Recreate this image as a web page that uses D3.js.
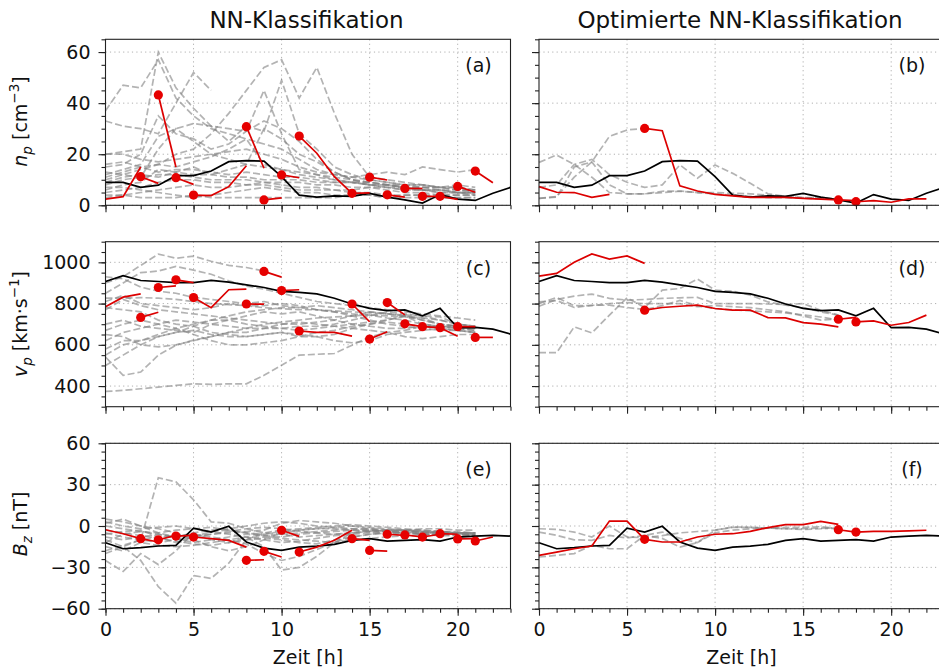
<!DOCTYPE html>
<html>
<head>
<meta charset="utf-8">
<title>NN-Klassifikation</title>
<style>
body { margin: 0; background: #fff; }
svg { display: block; font-family: "DejaVu Sans", sans-serif; }
</style>
</head>
<body>
<svg width="939" height="669"></svg>
<script src="https://d3js.org/d3.v7.min.js"></script>
<script>
// observed event (black), hourly 0..23
var obsNp = [9, 9, 7, 7.9, 11.6, 11.6, 13.4, 17.1, 17.5, 17.3, 11.2, 4, 3.2, 3.7, 3.5, 4.7, 3.2, 2.1, 0.9, 4.2, 2.4, 1.9, 4.7, 7];
var obsVp = [907, 935, 912, 907, 902, 902, 912, 904, 891, 878, 859, 854, 847, 826, 798, 777, 766, 769, 741, 777, 683, 685, 676, 652];
var obsBz = [-12.2, -16.5, -15.7, -14.5, -14, -1.5, -4.4, -0.2, -11.6, -16, -17.7, -15.3, -14.6, -13.3, -10.4, -9.2, -10.9, -10.4, -9.9, -10.9, -8, -7.3, -6.8, -7.3];

// neighbour events (grey dashed), NN-Klassifikation
var grayNp = [
  [37, 47, 46, 57, 42, 35, 30, 28, 26, 24, 22, 18, 14, 12, 11, 12, 13, 12, 15, 14, 13, 14],
  [20, 21, 22, 60, 46, 38, 31, 30, 29, 33, 30, 25, 18, 13, 10, 9, 8, 7, 7, 6, 6, 6],
  [33, 31, 30, 28, 40, 52, 45],
  [10, 12, 14, 16, 20, 22, 28, 36, 45, 54, 57, 42, 54, 36, 20, 11, 10, 9, 8, 7, 7, 6],
  [12, 14, 16, 27, 30, 32, 31, 25, 31, 29, 49, 28, 22, 15, 12, 10, 9, 8, 8, 7, 6, 5],
  [15, 16, 20, 35, 28, 26, 22, 24, 29, 45, 28, 14, 12, 10, 9, 9, 8, 7, 6, 5, 5, 4],
  [8, 10, 11, 22, 30, 25, 20, 18, 16, 15, 14, 12, 11, 10, 9, 8, 7, 7, 6, 6, 5, 5],
  [6, 8, 9, 14, 13, 12, 12, 11, 11, 10, 10, 10, 9, 9, 9, 8, 8, 7, 6, 5, 5, 5],
  [5, 6, 7, 9, 10, 10, 9, 9, 8, 9, 8, 7, 7, 6, 6, 7, 6, 5, 5, 4, 4, 4],
  [4, 4, 5, 6, 7, 8, 7, 7, 8, 8, 7, 6, 6, 6, 5, 5, 4, 4, 4, 3, 3, 3],
  [13, 12, 11, 12, 12, 11, 10, 10, 10, 9, 9, 9, 8, 8, 7, 7, 7, 6, 6, 6, 5, 5],
  [20, 20, 18, 17, 18, 19, 20, 21, 22, 20, 18, 15, 13, 12, 11, 10, 9, 8, 8, 7, 7, 6],
  [9, 11, 12, 11, 13, 15, 12, 14, 16, 30, 26, 20, 17, 13, 10, 8, 7, 6, 6, 6, 5, 5],
  [3, 4, 3, 3, 3, 4, 3, 3, 3, 3, 3, 3, 3, 3, 4, 4, 3, 3, 3, 3, 3, 3],
  [7, 7, 6, 5, 4, 3, 4, 5, 6, 7, 6, 5, 5, 4, 4, 4, 3, 4, 4, 4, 4, 4],
  [16, 17, 15, 13, 14, 14, 13, 12, 13, 12, 11, 11, 10, 9, 9, 8, 8, 7, 7, 7, 8, 7],
  [11, 13, 15, 16, 15, 17, 19, 22, 26, 16, 14, 13, 12, 11, 10, 9, 8, 8, 7, 7, 6, 6]
];
var grayVp = [
  [900, 930, 985, 1040, 1020, 1030, 1005, 985, 975, 958],
  [850, 900, 950, 958, 980, 962, 942, 910, 885, 870, 850, 830, 810, 800, 790, 780, 770, 760, 750, 740, 730, 720],
  [930, 920, 880, 860, 850, 830, 820, 810, 800, 810, 790, 780, 770, 760, 750, 745, 740, 735, 730, 720, 700, 690],
  [826, 826, 829, 826, 820, 810, 800, 795, 790, 780, 775, 770, 770, 765, 760, 755, 750, 745, 740, 735, 700, 690],
  [541, 452, 468, 550, 598, 623, 640, 660, 680, 700, 710, 720, 730, 735, 740, 745, 730, 720, 700, 690, 690, 680],
  [374, 379, 387, 395, 403, 411, 408, 411, 411, 452, 501, 550, 554, 558, 598, 639, 660, 670, 690, 690, 680, 680],
  [500, 550, 600, 640, 660, 670, 650, 640, 640, 650, 660, 650, 640, 620, 610, 620, 650, 660, 670, 680, 670, 660],
  [780, 770, 760, 720, 700, 690, 660, 650, 640, 650, 660, 640, 640, 650, 680, 700, 720, 740, 730, 700, 690, 680],
  [550, 600, 620, 650, 680, 700, 720, 740, 760, 770, 780, 780, 790, 780, 770, 760, 750, 740, 720, 700, 690, 680],
  [620, 660, 680, 700, 720, 710, 700, 690, 680, 680, 680, 690, 690, 700, 720, 740, 760, 750, 740, 720, 700, 690],
  [700, 720, 690, 680, 670, 660, 700, 720, 700, 690, 680, 670, 680, 690, 700, 710, 720, 740, 700, 690, 680, 670],
  [650, 640, 600, 590, 600, 620, 640, 660, 660, 680, 700, 710, 700, 690, 680, 670, 660, 640, 630, 640, 650, 650],
  [580, 620, 620, 640, 660, 690, 720, 720, 740, 760, 750, 760, 740, 720, 700, 690, 680, 680, 690, 690, 680, 670],
  [810, 840, 800, 790, 780, 770, 780, 800, 790, 790, 800, 790, 770, 760, 740, 720, 700, 690, 680, 670, 670, 660],
  [670, 700, 720, 700, 680, 650, 620, 600, 600, 610, 620, 640, 660, 670, 690, 700, 710, 700, 690, 680, 670, 660],
  [770, 820, 790, 770, 760, 750, 740, 730, 720, 710, 700, 700, 710, 720, 740, 760, 750, 740, 720, 700, 690, 680]
];
var grayBz = [
  [-20, -15, -10, 35, 32, 19, 3, 2, -2, -5, -6, -8, -7, -6, -5, -4, -3, -3, -2, -2, -3, -3],
  [-10, -15, -25, -44, -56, -36, -38, -27, -10, -5, -3, -2, -1, 0, 1, 0, -1, -2, -3, -4, -5, -5],
  [-25, -33, -20, -28, -18, -5, -10, -12, -8, -15, -32, -30, -22, -12, -5, -3, -4, -5, -6, -6, -6, -6],
  [5, 3, 0, -2, -5, -10, -15, -18, -15, -10, -5, -3, -2, -1, 0, -1, -2, -3, -4, -5, -5, -6],
  [2, 5, 0, -5, -8, -5, -3, -2, 0, 2, 3, 2, 0, -1, -2, -3, -4, -4, -5, -5, -5, -5],
  [-5, -8, -10, -12, -10, -8, -6, -5, -4, -3, 2, 4, 3, 2, 0, -2, -3, -4, -4, -5, -5, -6],
  [-15, -18, -12, -14, -15, -14, -12, -10, -8, -8, -9, -10, -11, -12, -10, -9, -8, -7, -7, -6, -6, -7],
  [0, -2, -4, -6, -8, -7, -6, -4, -2, -1, -2, -4, -5, -6, -5, -4, -3, -3, -3, -4, -4, -5],
  [-8, -10, -8, -6, -9, -12, -10, -8, -6, -7, -8, -6, -5, -4, -3, -4, -5, -5, -6, -6, -7, -7],
  [-12, -6, -4, -5, -3, -2, -1, -3, -5, -6, -4, -3, -2, -2, -3, -3, -4, -4, -5, -5, -6, -6],
  [-3, -5, -7, -9, -11, -13, -14, -12, -10, -9, -10, -12, -13, -10, -8, -6, -5, -5, -6, -7, -7, -7],
  [3, 0, -2, -1, 0, -2, -4, -6, -8, -10, -12, -11, -9, -7, -6, -5, -5, -4, -4, -4, -5, -5],
  [-18, -14, -10, -8, -7, -6, -8, -10, -13, -20, -25, -22, -17, -12, -8, -6, -5, -5, -5, -5, -6, -6],
  [-6, -4, -3, -8, -12, -8, -4, -3, -5, -7, -6, -5, -4, -3, -2, -2, -3, -3, -4, -4, -5, -5]
];

// neighbour events, optimierte NN-Klassifikation
var grayNpOpt = [
  [16.8, 19.7, 16, 11, 5, 4.5, 4.5, 5, 5.5, 5, 4.5, 4, 3.5, 3, 3, 2.8, 2.5, 2.3],
  [2.7, 3.4, 11, 17, 27, 29.5, 30.1],
  [2.7, 3.2, 15, 17, 8, 4.5, 4.5, 5.5, 5.6, 5, 5, 4.7, 4.5, 4, 3.5, 3, 2.8, 2.3],
  [7, 8, 16, 18, 12, 9, 7, 8, 15.8, 10.6, 15.8, 12.5, 8.6, 4.5, 3.5, 3, 3, 2.5]
];
var grayVpOpt = [
  [787, 820, 836, 846, 825, 817, 820, 825, 828, 830, 800, 800, 800, 798, 795, 800, 768, 744],
  [808, 815, 781, 792, 792, 781, 771, 790, 815, 790, 775, 770, 765, 760, 755, 745, 735, 720],
  [562, 562, 687, 658, 744, 828, 781, 865, 873, 919, 865, 860, 841, 808, 792, 781, 760, 744],
  [800, 830, 790, 790, 800, 805, 800, 800, 800, 785, 790, 785, 780, 770, 760, 740, 720, 725]
];
var grayBzOpt = [
  [-2, -2.4, -4.4, -8, 0, -8, -8.5, -7, -5, -4, -3, -1, -1, -1.5, -2, -2, -1.5, -2],
  [-4.4, -6.8, -10, -10.4, -6.8, -8.7, -6.8, -4.4, -9, -12, -5, -3, -2, -1.5, -1, -1, -0.5, -2],
  [-22.5, -21.3, -20, -14, -16.5, -16.5, -6.8, -9, -15.3, -12, -3.1, -0.7, -1, -1.5, -2, -2.5, -2, -1]
];

// predictions (red): [start hour, values]
var predNp = [[0, [2.4, 3.4, 15]], [2, [11.2, 8.6]], [3, [43.2, 15]], [4, [10.8, 8.2]], [5, [4, 3.8, 7.3, 15.5]],
  [8, [30.8, 14.5]], [9, [2.1, 2.9]], [10, [11.9, 10.8]], [11, [27.1, 20.4, 11.2, 4.7]], [14, [4.7, 4.9]],
  [15, [11, 9.9]], [16, [4.1, 3.2]], [17, [6.6, 6.6]], [18, [3.5, 3.5]], [19, [3.5, 2.3]], [20, [7.4, 5.1]], [21, [13.4, 8.8]]];
var predVp = [[0, [785, 831, 847]], [2, [733, 758]], [3, [878, 886]], [4, [915, 902]], [5, [829, 780, 867, 870]],
  [8, [798, 797]], [9, [956, 928]], [10, [863, 867]], [11, [667, 660, 660, 642]], [14, [798, 712]],
  [15, [628, 663]], [16, [805, 745]], [17, [702, 688]], [18, [688, 683]], [19, [683, 642]], [20, [688, 688]], [21, [636, 636]]];
var predBz = [[0, [-2.7, -5.6, -9.2]], [2, [-9.2, -11.6]], [3, [-10, -6.8]], [4, [-7.3, -6.8]], [5, [-8, -9.2, -10.4, -15.3]],
  [8, [-24.9, -24.5]], [9, [-18.4, -22.5]], [10, [-3.1, -7.5]], [11, [-18.9, -15.3, -10.4, -3.1]], [14, [-9.2, -10.4]],
  [15, [-17.7, -18.2]], [16, [-6, -6.8]], [17, [-6.5, -8]], [18, [-8, -6]], [19, [-5.6, -6]], [20, [-9.4, -9.2]], [21, [-10.9, -8]]];

var predNpOpt = [[0, [7.3, 5.1, 5, 3.1, 4.3]], [6, [30.1, 29.2, 7.6, 5.6, 4.3, 3.7, 3.1, 3.1, 3.1, 2.7, 2.4, 2.1]],
  [17, [2.1, 1.8]], [18, [1.4, 1.8, 1.2, 2.5, 2.5]]];
var predVpOpt = [[0, [933, 946, 1000, 1041, 1016, 1031, 995]], [6, [768, 781, 787, 792, 776, 768, 768, 732, 731, 708, 700, 687]],
  [17, [724, 733]], [18, [711, 716, 695, 708, 744]]];
var predBzOpt = [[0, [-21.3, -19, -16.5, -14.5, 3.6, 3.6, -9.7]], [6, [-9.7, -11.6, -11.6, -8, -6, -5.6, -3.9, -1.2, 1, 1, 3.4, 1.2]],
  [17, [-2.7, -4.4]], [18, [-4.4, -3.9, -3.9, -3.6, -3.1]]];

var xTicks = [0, 5, 10, 15, 20];
var titles = ["NN-Klassifikation", "Optimierte NN-Klassifikation"];

var svg = d3.select("svg");
var colLeft = [105.5, 539], panelW = 405;
var rowTop = [39.3, 241.7, 443.3], panelH = [166, 165, 165.4];
var fs = 19;
var red = "#dc0000";

function drawPanel(col, row, yDomain, majors, minorStep, gray, obs, pred, label) {
  var x0 = colLeft[col], y0 = rowTop[row], h = panelH[row];
  var x = d3.scaleLinear().domain([0, 23]).range([x0, x0 + panelW]);
  var y = d3.scaleLinear().domain(yDomain).range([y0 + h, y0]);
  var g = svg.append("g");

  // dotted grid
  g.selectAll(".gx").data(xTicks.slice(1)).enter().append("line").attr("class", "gx")
    .attr("x1", x).attr("x2", x).attr("y1", y0).attr("y2", y0 + h)
    .attr("stroke", "#b0b0b0").attr("stroke-width", 1).attr("stroke-dasharray", "1.2,3.2");
  g.selectAll(".gy").data(majors).enter().append("line").attr("class", "gy")
    .attr("y1", y).attr("y2", y).attr("x1", x0).attr("x2", x0 + panelW)
    .attr("stroke", "#b0b0b0").attr("stroke-width", 1).attr("stroke-dasharray", "1.2,3.2");

  var line = d3.line()
    .x(function(d) { return x(d[0]); })
    .y(function(d) { return y(d[1]); });
  function pts(start, vals) { return vals.map(function(v, i) { return [start + i, v]; }); }

  g.selectAll(".gray").data(gray).enter().append("path").attr("class", "gray")
    .attr("d", function(d) { return line(pts(0, d)); })
    .attr("fill", "none").attr("stroke", "#808080").attr("stroke-opacity", 0.6)
    .attr("stroke-width", 1.7).attr("stroke-dasharray", "7,3");

  g.append("path").attr("d", line(pts(0, obs)))
    .attr("fill", "none").attr("stroke", "#000").attr("stroke-width", 1.7);

  g.selectAll(".pred").data(pred).enter().append("path").attr("class", "pred")
    .attr("d", function(d) { return line(pts(d[0], d[1])); })
    .attr("fill", "none").attr("stroke", red).attr("stroke-width", 1.7);
  g.selectAll(".dot").data(pred.filter(function(d) { return d[0] > 0; })).enter().append("circle")
    .attr("class", "dot")
    .attr("cx", function(d) { return x(d[0]); })
    .attr("cy", function(d) { return y(d[1][0]); })
    .attr("r", 4.6).attr("fill", "#e60000");

  // axes
  g.append("g").attr("transform", "translate(0," + (y0 + h) + ")")
    .call(d3.axisBottom(x).tickValues(xTicks).tickSize(7).tickPadding(7)
      .tickFormat(row == 2 ? d3.format("d") : ""));
  g.append("g").attr("transform", "translate(0," + (y0 + h) + ")")
    .call(d3.axisBottom(x).tickValues(d3.range(0, 24)).tickSize(4).tickFormat(""));
  g.append("g").attr("transform", "translate(" + x0 + ",0)")
    .call(d3.axisLeft(y).tickValues(majors).tickSize(7).tickPadding(8)
      .tickFormat(col == 0 ? d3.format("d") : ""));
  g.append("g").attr("transform", "translate(" + x0 + ",0)")
    .call(d3.axisLeft(y).tickValues(d3.range(yDomain[0], yDomain[1] + 0.1, minorStep)).tickSize(4).tickFormat(""));
  g.selectAll(".domain").remove();
  g.selectAll(".tick line").attr("stroke", "#222").attr("stroke-width", 1.1);
  g.selectAll(".tick text").attr("font-size", fs).attr("font-family", "DejaVu Sans").attr("fill", "#111");

  g.append("rect").attr("x", x0).attr("y", y0).attr("width", panelW).attr("height", h)
    .attr("fill", "none").attr("stroke", "#222").attr("stroke-width", 1.1);

  g.append("text").attr("x", x0 + 373).attr("y", y0 + 33)
    .attr("text-anchor", "middle").attr("font-size", fs).attr("fill", "#111").text(label);
}

drawPanel(0, 0, [0, 65], [0, 20, 40, 60], 5, grayNp, obsNp, predNp, "(a)");
drawPanel(1, 0, [0, 65], [0, 20, 40, 60], 5, grayNpOpt, obsNp, predNpOpt, "(b)");
drawPanel(0, 1, [300, 1100], [400, 600, 800, 1000], 50, grayVp, obsVp, predVp, "(c)");
drawPanel(1, 1, [300, 1100], [400, 600, 800, 1000], 50, grayVpOpt, obsVp, predVpOpt, "(d)");
drawPanel(0, 2, [-60, 60], [-60, -30, 0, 30, 60], 6, grayBz, obsBz, predBz, "(e)");
drawPanel(1, 2, [-60, 60], [-60, -30, 0, 30, 60], 6, grayBzOpt, obsBz, predBzOpt, "(f)");

// column titles
svg.selectAll(".title").data(titles).enter().append("text").attr("class", "title")
  .attr("x", function(d, i) { return colLeft[i] + panelW / 2 - 1.5; })
  .attr("y", 28).attr("text-anchor", "middle").attr("font-size", 23).attr("fill", "#111")
  .text(function(d) { return d; });

// x labels
colLeft.forEach(function(c) {
  svg.append("text").attr("x", c + panelW / 2).attr("y", 664)
    .attr("text-anchor", "middle").attr("font-size", fs).attr("fill", "#111").text("Zeit [h]");
});

// y labels
function yLabel(cy, sym, sub, unit, sup) {
  var t = svg.append("text").attr("transform", "translate(27," + cy + ") rotate(-90)")
    .attr("text-anchor", "middle").attr("font-size", fs).attr("fill", "#111");
  t.append("tspan").attr("font-style", "italic").text(sym);
  t.append("tspan").attr("font-style", "italic").attr("font-size", 13.5).attr("dy", 5).text(sub);
  t.append("tspan").attr("dy", -5).text(" [" + unit);
  if (sup) {
    t.append("tspan").attr("font-size", 13.5).attr("dy", -8).text(sup);
    t.append("tspan").attr("dy", 8).text("]");
  } else {
    t.append("tspan").text("]");
  }
}
yLabel(121.5, "n", "p", "cm", "\u22123");
yLabel(324, "v", "p", "km\u00b7s", "\u22121");
yLabel(524, "B", "z", "nT", null);
</script>
</body>
</html>
